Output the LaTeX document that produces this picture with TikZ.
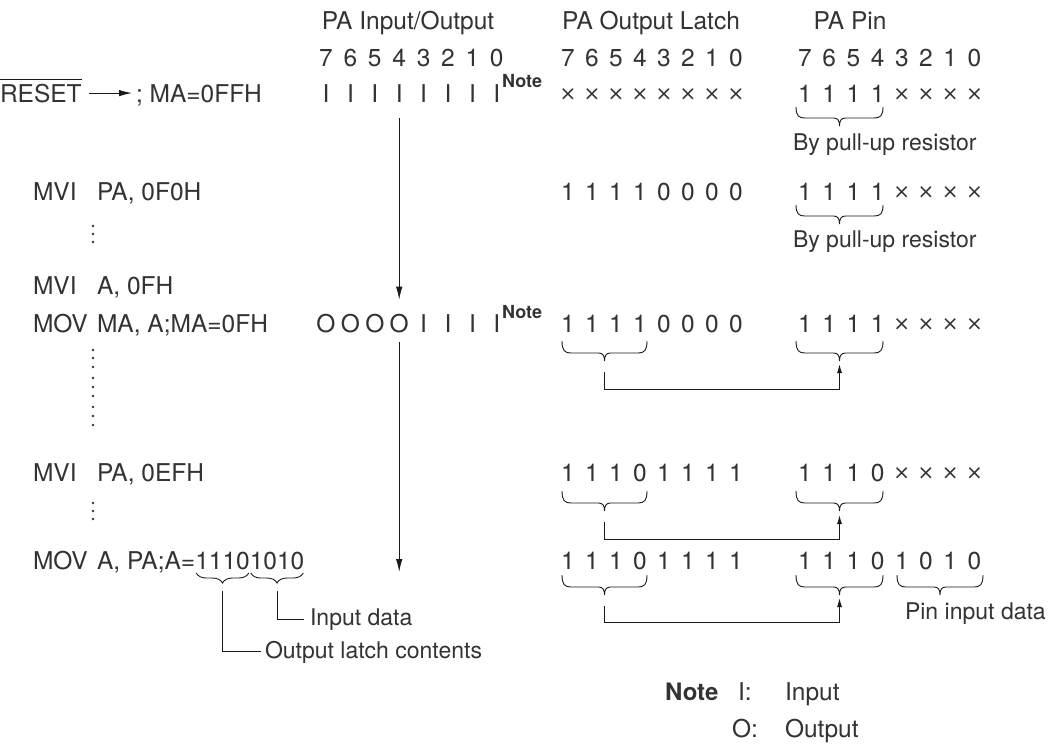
\documentclass[tikz,border=0pt]{standalone}
\usepackage{fontspec}
\setmainfont{TeX Gyre Heros}
\newfontfamily\djv{DejaVu Sans}
\usetikzlibrary{arrows.meta,calc,decorations.pathreplacing}
\definecolor{ink}{HTML}{333333}
\definecolor{lineink}{HTML}{1A1A1A}
\newcommand\crossch{\raisebox{1.5pt}{\djv\fontsize{20}{20}\selectfont ×}}
\newcommand\bitrow[5]{%
  \foreach \ch [count=\i from 0] in {#5} {%
    \pgfmathtruncatemacro\bitn{7-\i}%
    \node[txt] (#1-\bitn) at ({#2+#3*\i},#4) {\ch};
  }}
\newcommand\mybrace[8]{%
  \draw[brcline] (#1,#3) .. controls (#1,{#3+0.8*#4}) and ({#1+0.3*#6},{#3+#4}) .. ({#1+#6},{#3+#4})
    -- ({(#1+#2)/2-#7},{#3+#4}) .. controls ({(#1+#2)/2-0.3*#7},{#3+#4}) and ({(#1+#2)/2},{#3+#4+0.3*#5}) .. ({(#1+#2)/2},{#3+#4+#5})
    .. controls ({(#1+#2)/2},{#3+#4+0.3*#5}) and ({(#1+#2)/2+0.3*#7},{#3+#4}) .. ({(#1+#2)/2+#7},{#3+#4})
    -- ({#2-#6},{#3+#4}) .. controls ({#2-0.3*#6},{#3+#4}) and (#2,{#3+0.8*#4}) .. (#2,#3);
  \coordinate (#8) at ({(#1+#2)/2},{#3+#4+#5});
}
\begin{document}
\begin{tikzpicture}[x=1pt,y=-1pt,
  txt/.style={inner sep=0pt, outer sep=0pt, text=ink, font=\fontsize{24.5}{27}\selectfont, anchor=base},
  ltxt/.style={txt, anchor=base west},
  stxt/.style={ltxt, font=\fontsize{23}{26}\selectfont},
  ctxt/.style={txt, anchor=base},
  notesup/.style={inner sep=0pt, text=ink, font=\fontsize{18}{20}\selectfont\bfseries, anchor=base west},
  notebig/.style={inner sep=0pt, text=ink, font=\fontsize{24}{26}\selectfont\bfseries, anchor=base west},
  conn/.style={draw=lineink, line width=1pt},
  arr/.style={conn, -{Latex[length=13pt,width=6.5pt]}},
  sarr/.style={conn, -{Latex[length=9pt,width=5pt]}},
  brcline/.style={draw=lineink, line width=0.9pt},
  smallbrace/.style={brcline, decorate, decoration={brace, mirror, amplitude=10pt}},
  dotm/.style={fill=ink, circle, inner sep=0pt, minimum size=2.6pt}
]
\fill[white] (0,0) rectangle (1059,747);
\useasboundingbox (0,0) rectangle (1059,747);

% headers
\node[ctxt] (hA) at (408,29) {PA Input/Output};
\node[ctxt] (hB) at (651,29) {PA Output Latch};
\node[ctxt] (hC) at (850,29) {PA Pin};
\bitrow{nA}{326}{24.4}{66}{7,6,5,4,3,2,1,0}
\bitrow{nB}{568}{24}{66}{7,6,5,4,3,2,1,0}
\bitrow{nC}{805}{24.2}{66}{7,6,5,4,3,2,1,0}

% row 1: RESET
\node[ltxt] (reset) at (0,102) {RESET};
\draw[brcline] ([yshift=4pt]reset.north west) -- ([yshift=4pt]reset.north east);
\node[ltxt] (ma1) at (136,102) {; MA=0FFH};
\draw[arr] ([xshift=7pt]reset.east) -- ([xshift=-4pt]reset.east -| ma1.west);
\bitrow{r1a}{326}{24.4}{102}{I,I,I,I,I,I,I,I}
\node[notesup] (note1) at (502,87) {Note};
\bitrow{r1b}{568}{24}{102}{\crossch,\crossch,\crossch,\crossch,\crossch,\crossch,\crossch,\crossch}
\bitrow{r1c}{805}{24.2}{102}{1,1,1,1,\crossch,\crossch,\crossch,\crossch}
\mybrace{796}{883}{107}{11}{8}{9}{6}{t1c}
\node[stxt] (pull1) at (793,150) {By pull-up resistor};

% row 2: MVI PA, 0F0H
\node[ltxt] (mvi2) at (33,200) {MVI};
\node[ltxt] (op2) at (97,200) {PA, 0F0H};
\bitrow{r2b}{568}{24}{200}{1,1,1,1,0,0,0,0}
\bitrow{r2c}{805}{24.2}{200}{1,1,1,1,\crossch,\crossch,\crossch,\crossch}
\mybrace{796}{883}{205}{11}{8}{9}{6}{t2c}
\node[stxt] (pull2) at (793,247) {By pull-up resistor};
\foreach \yy [count=\k] in {226,234,242} \node[dotm] (va\k) at (93,\yy) {};

% row 3: MVI A, 0FH
\node[ltxt] (mvi3) at (33,294) {MVI};
\node[ltxt] (op3) at (97,294) {A, 0FH};

% row 4: MOV MA, A;MA=0FH
\node[ltxt] (mov4) at (33,332) {MOV};
\node[ltxt] (op4) at (97,332) {MA, A;MA=0FH};
\bitrow{r4a}{326}{24.4}{332}{O,O,O,O,I,I,I,I}
\node[notesup] (note2) at (502,318) {Note};
\bitrow{r4b}{568}{24}{332}{1,1,1,1,0,0,0,0}
\bitrow{r4c}{805}{24.2}{332}{1,1,1,1,\crossch,\crossch,\crossch,\crossch}
\mybrace{562}{647}{341}{12}{8}{9}{6}{t4b}
\mybrace{796}{883}{341}{12}{8}{9}{6}{t4c}
\draw[sarr] ([yshift=-11pt]t4b) |- ([yshift=-28pt]t4c) -- ([yshift=-3pt]t4c);
\foreach \yy [count=\k] in {350,358,367,378,387,396,407,416,425} \node[dotm] (vb\k) at (93,\yy) {};

% big arrows
\draw[arr] ([yshift=-16pt]r1a-4.south) -- ([yshift=14pt]r4a-4.north);
\coordinate (bigend) at (r4a-4 |- 0,572);
\draw[arr] ([yshift=-10pt]r4a-4.south) -- (bigend);

% row 5: MVI PA, 0EFH
\node[ltxt] (mvi5) at (33,481) {MVI};
\node[ltxt] (op5) at (97,481) {PA, 0EFH};
\bitrow{r5b}{568}{24}{481}{1,1,1,0,1,1,1,1}
\bitrow{r5c}{805}{24.2}{481}{1,1,1,0,\crossch,\crossch,\crossch,\crossch}
\mybrace{562}{647}{491}{12}{8}{9}{6}{t5b}
\mybrace{796}{883}{491}{12}{8}{9}{6}{t5c}
\draw[sarr] ([yshift=-11pt]t5b) |- ([yshift=-28pt]t5c) -- ([yshift=-4pt]t5c);
\foreach \yy [count=\k] in {503,511,519} \node[dotm] (vc\k) at (93,\yy) {};

% row 6: MOV A, PA;A=11101010
\node[ltxt] (mov6) at (33,569) {MOV};
\node[ltxt] (op6) at (97,569) {A, PA;A=};
\node[ltxt] (d1) at (op6.base east) {1110};
\node[ltxt] (d2) at (d1.base east) {1010};
\draw[smallbrace] ($(d1.base west)+(1,4)$) -- ($(d1.base east)+(-1,4)$);
\draw[smallbrace] ($(d2.base west)+(1,4)$) -- ($(d2.base east)+(-1,4)$);
\coordinate (td1) at ($(d1.base west)!0.5!(d1.base east)+(0,14)$);
\coordinate (td2) at ($(d2.base west)!0.5!(d2.base east)+(0,14)$);
\node[stxt] (inp) at (310,625) {Input data};
\node[stxt] (outl) at (265,658) {Output latch contents};
\draw[conn] ([yshift=-8pt]td2) |- ([xshift=-6pt]inp.west);
\draw[conn] ([yshift=-8pt]td1) |- ([xshift=-4pt]outl.west);
\bitrow{r6b}{568}{24}{569}{1,1,1,0,1,1,1,1}
\bitrow{r6c}{805}{24.2}{569}{1,1,1,0,1,0,1,0}
\mybrace{562}{647}{575}{12}{8}{9}{6}{t6b}
\mybrace{796}{883}{575}{12}{8}{9}{6}{t6c}
\mybrace{897}{983}{575}{12}{8}{9}{6}{t6d}
\node[stxt] (pind) at (905,619) {Pin input data};
\draw[sarr] ([yshift=-11pt]t6b) |- ([yshift=-27pt]t6c) -- ([yshift=-3pt]t6c);

% note
\node[notebig] (noteb) at (665,700) {Note};
\node[ltxt] (ni) at (738,700) {I:};
\node[ltxt] (nin) at (785,700) {Input};
\node[ltxt] (no) at (732,737) {O:};
\node[ltxt] (nout) at (785,737) {Output};
\end{tikzpicture}
\end{document}
